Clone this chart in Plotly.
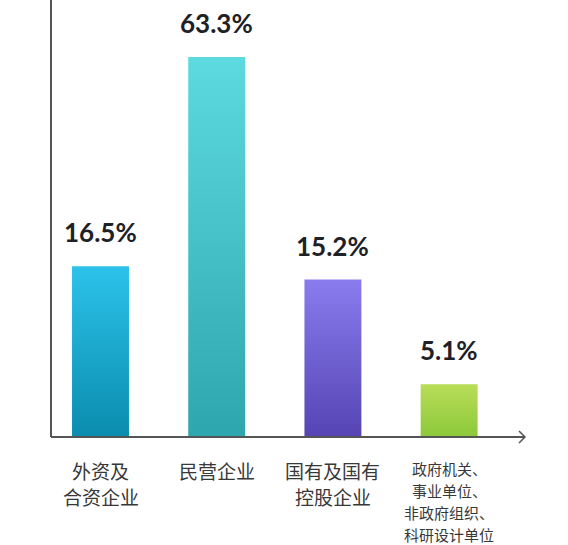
import plotly.graph_objects as go

# ---- data ----
categories = [
    ["外资及", "合资企业"],
    ["民营企业"],
    ["国有及国有", "控股企业"],
    ["政府机关、", "事业单位、", "非政府组织、", "科研设计单位"],
]
values = [16.5, 63.3, 15.2, 5.1]
value_labels = ["16.5%", "63.3%", "15.2%", "5.1%"]

# ---- style ----
top_colors = ["#2cc2ea", "#5cdadf", "#8a7cef", "#b9dd58"]
bottom_colors = ["#0a8cae", "#2ea6ad", "#5544b2", "#8cc83a"]
cat_font_sizes = [19, 19, 19, 15]
cat_line_gaps = [26, 26, 26, 22]
cat_first_offset = [33, 33, 33, 31]
Y_MAX = 36.7          # axis maximum; the tallest bar is truncated at the top
BAR_W = 0.49
AXIS_COLOR = "#555555"

fig = go.Figure()

for i, v in enumerate(values):
    x0, x1 = i - BAR_W / 2, i + BAR_W / 2
    fig.add_trace(go.Scatter(
        x=[x0, x1, x1, x0, x0],
        y=[0, 0, v, v, 0],
        mode="lines",
        fill="toself",
        line=dict(width=0),
        fillgradient=dict(
            type="vertical",
            colorscale=[[0, bottom_colors[i]], [1, top_colors[i]]],
            start=0,
            stop=min(v, Y_MAX),
        ),
        hoverinfo="skip",
        showlegend=False,
    ))
    # value label above the (visible) bar top
    fig.add_annotation(
        x=i, y=min(v, Y_MAX), xref="x", yref="y",
        text=f"<b>{value_labels[i]}</b>",
        showarrow=False, yanchor="bottom", yshift=16,
        font=dict(family="Lato", size=26, color="#1e2126"),
    )
    # category label lines below the axis
    for k, line in enumerate(categories[i]):
        fig.add_annotation(
            x=i, y=0, xref="x", yref="y",
            text=line, showarrow=False, yanchor="middle",
            yshift=-cat_first_offset[i] - k * cat_line_gaps[i],
            font=dict(family="Noto Sans CJK SC", size=cat_font_sizes[i], color="#383838"),
        )

# axis lines and arrow
fig.add_shape(type="line", xref="paper", yref="paper", x0=0, x1=0, y0=0, y1=1.15,
              line=dict(color=AXIS_COLOR, width=2))
fig.add_shape(type="line", xref="paper", yref="paper", x0=0, x1=1, y0=0, y1=0,
              line=dict(color=AXIS_COLOR, width=2))
fig.add_shape(type="path", xref="paper", yref="paper",
              xsizemode="pixel", ysizemode="pixel", xanchor=1, yanchor=0,
              path="M -6 6 L 0 0 L -6 -6",
              line=dict(color=AXIS_COLOR, width=1.5))

fig.update_layout(
    width=568, height=545,
    margin=dict(l=51, r=43, t=57, b=108),
    paper_bgcolor="white", plot_bgcolor="white",
    xaxis=dict(range=[-0.426, 3.653], visible=False, fixedrange=True),
    yaxis=dict(range=[0, Y_MAX], visible=False, fixedrange=True),
    hovermode=False,
)

fig.write_html("out.html")
